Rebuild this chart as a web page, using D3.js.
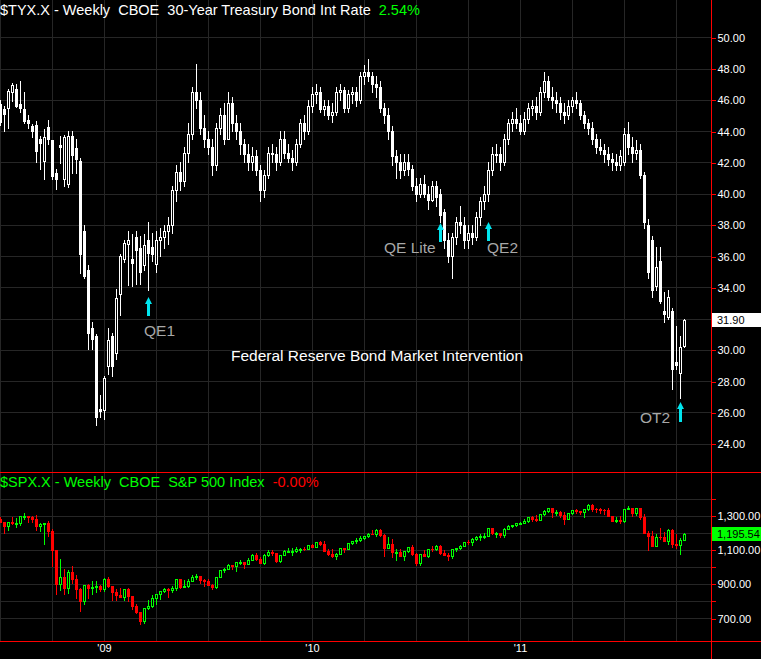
<!DOCTYPE html>
<html><head><meta charset="utf-8">
<script src="https://cdn.jsdelivr.net/npm/d3@7/dist/d3.min.js"></script>
<style>
html,body{margin:0;padding:0;background:#000;}
svg{display:block;}
text{font-family:"Liberation Sans",Arial,sans-serif;}
</style></head><body>
<svg id="c" width="761" height="659"></svg>
<script>
// ---------------- DATA ----------------
const firstWeek = "2008-06-30", lastWeek = "2011-10-10";
const yearLabels = ["'09", "'10", "'11"];
const tyxTicks = [24,26,28,30,32,34,36,38,40,42,44,46,48,50];
const spxTicks = [700,800,900,1000,1100,1200,1300,1400];
const spxLabelTicks = [700,900,1100,1300];
const tyxLast = 31.90, spxLast = 1195.54;

const tyxOpen = [45.7,45.4,45.46,46.5,46.7,45.74,45.42,44.7,44.35,44.4,
43.5,42.1,44.27,43.44,41.33,43.1,40.9,40.6,43.7,42.93,
42.1,37.6,35.13,31.42,30.85,26.19,26.12,28.93,30.9,29.77,
33.6,35.83,36.8,35.83,37.2,36.5,35.45,37.0,36.6,35.5,
37.0,37.2,37.6,38.0,40.2,41.4,40.8,42.6,43.8,46.5,
46.0,44.2,43.5,43.0,41.8,44.2,45.0,43.5,45.8,44.5,
44.0,43.2,42.5,42.0,42.4,41.5,40.2,41.2,42.6,42.5,
42.0,43.5,42.6,42.3,42.0,43.2,44.5,44.0,45.6,46.4,
46.5,45.4,45.6,45.0,45.2,46.5,46.6,45.5,46.4,46.5,
46.0,47.5,47.8,47.5,47.0,46.8,45.5,45.0,44.0,42.4,
42.0,41.5,42.0,41.6,40.5,40.0,40.6,40.0,39.6,40.5,
40.0,38.8,37.0,36.0,37.2,38.2,38.0,37.0,37.5,37.2,
38.5,39.5,40.0,41.5,42.5,42.5,42.0,43.5,44.5,44.8,
44.5,44.0,44.8,45.5,45.6,45.2,46.5,47.2,46.2,46.0,
45.8,45.2,45.0,45.6,46.0,45.8,45.0,44.5,44.2,43.5,
43.0,42.8,42.5,42.2,42.0,41.8,42.0,43.8,43.0,42.6,
42.8,41.2,38.0,37.05,34.05,35.7,32.47,32.1,32.5,29.2,
28.5,30.23];
const tyxHigh = [46.0,45.6,46.7,47.1,47.0,47.2,46.5,45.0,44.45,44.65,
43.7,44.1,44.7,43.44,41.6,43.7,43.75,44.0,44.0,43.5,
42.3,38.0,35.4,31.8,31.0,27.08,28.3,31.4,31.1,33.9,
36.1,37.05,37.6,37.4,37.6,37.3,37.4,38.2,37.5,37.6,
37.8,38.0,38.5,40.5,41.8,42.0,43.0,44.5,46.8,48.3,
46.5,45.0,44.0,43.5,44.5,45.5,45.8,46.5,46.2,45.0,
44.5,43.5,43.2,43.0,42.8,41.8,41.5,43.0,43.2,43.0,
44.0,44.0,43.2,42.8,43.5,44.8,45.0,46.0,46.8,47.0,
46.8,46.0,46.0,45.8,46.8,47.0,46.8,46.6,46.8,46.8,
47.8,48.2,48.6,47.8,47.5,47.2,45.8,45.5,44.3,42.8,
42.5,42.5,42.5,41.8,41.0,41.0,41.2,40.5,40.8,40.8,
40.3,39.0,37.5,37.5,38.5,39.2,38.5,38.0,38.0,38.8,
39.8,40.5,42.0,43.0,43.2,43.0,43.8,44.8,45.2,45.5,
45.0,45.2,45.8,46.0,46.2,46.8,47.8,47.5,46.8,46.5,
46.2,45.8,46.0,46.2,46.5,46.0,45.3,44.8,44.6,43.8,
43.5,43.2,43.0,42.6,42.5,42.8,44.2,44.6,43.6,43.4,
43.2,41.4,38.4,37.3,36.55,36.55,33.7,33.85,32.7,31.55,
30.87,32.0];
const tyxLow = [44.4,44.0,44.2,45.9,45.56,45.25,44.5,44.2,43.65,42.0,
41.6,40.9,43.2,40.9,40.3,41.95,40.5,40.4,41.33,41.3,
34.94,34.6,30.08,30.06,25.18,25.67,25.55,28.42,28.3,29.38,
32.2,35.6,34.17,34.1,34.2,34.2,35.1,33.8,35.7,35.0,
36.0,36.5,36.8,37.5,39.5,40.2,40.5,42.0,43.5,45.5,
43.8,43.0,42.5,41.2,41.5,43.8,43.2,43.5,44.0,43.5,
42.5,42.0,41.5,41.5,41.2,39.5,39.8,41.0,42.0,41.5,
41.8,42.3,42.0,41.5,41.8,43.0,43.5,43.8,45.2,45.8,
45.2,45.0,44.8,44.6,45.0,46.0,45.2,45.2,45.8,45.6,
45.8,47.0,47.2,46.5,46.2,45.2,44.5,43.5,41.8,41.0,
41.0,41.2,41.2,40.2,39.5,39.8,39.8,39.0,39.5,39.2,
38.2,36.5,35.6,34.6,36.8,37.5,36.5,36.5,36.8,37.0,
38.0,39.0,39.5,41.2,42.0,41.5,41.8,43.2,44.0,44.2,
43.8,43.8,44.5,45.0,44.8,45.0,46.2,46.0,45.5,45.2,
44.8,44.5,44.8,45.2,45.5,44.8,44.2,43.8,43.2,42.6,
42.5,42.0,41.8,41.5,41.5,41.5,41.8,42.5,42.0,42.2,
41.0,37.8,34.6,33.4,33.85,33.0,31.8,32.0,27.5,28.8,
26.93,30.2];
const tyxClose = [44.6,45.1,46.57,46.95,45.6,45.5,44.65,44.54,44.03,42.7,
43.23,43.6,43.5,41.14,40.9,43.0,43.6,43.7,42.48,42.22,
36.1,34.75,31.1,30.66,25.67,26.06,28.17,30.6,28.93,33.34,
36.03,36.86,37.0,35.58,36.4,35.0,36.7,36.2,36.1,37.05,
37.2,37.6,38.0,40.2,41.4,40.8,42.6,43.8,46.5,46.0,
44.2,43.5,43.0,41.8,44.2,45.0,43.5,45.8,44.5,44.0,
43.2,42.5,42.0,42.4,41.5,40.2,41.2,42.6,42.5,42.0,
43.5,42.6,42.3,42.0,43.2,44.5,44.0,45.6,46.4,46.5,
45.4,45.6,45.0,45.2,46.5,46.6,45.5,46.4,46.5,46.0,
47.5,47.8,47.5,47.0,46.8,45.5,45.0,44.0,42.4,42.0,
41.5,42.0,41.6,40.5,40.0,40.6,40.0,39.6,40.5,39.8,
38.65,37.0,36.0,37.2,38.2,38.0,37.0,37.5,37.2,38.5,
39.5,40.0,41.5,42.5,42.5,42.0,43.5,44.5,44.8,44.5,
44.0,44.8,45.5,45.6,45.2,46.5,47.2,46.2,46.0,45.8,
45.2,45.0,45.6,46.0,45.8,45.0,44.5,44.2,43.5,43.0,
42.8,42.5,42.2,42.0,41.8,42.4,43.8,43.0,42.6,42.8,
41.2,38.2,35.0,33.85,35.3,33.1,32.3,33.4,28.75,29.0,
30.2,31.9];

const spxOpen = [1278,1262,1239,1261,1257,1260,1296,1298,1292,1283,
1242,1251,1255,1213,1099,899,940,877,968,930,
873,800,896,876,879,887,872,931,890,850,
832,826,869,827,770,735,683,756,769,816,
843,857,870,866,877,929,883,887,919,940,
946,921,918,896,879,940,979,987,1010,1005,
1026,1029,1016,1042,1068,1044,1025,1071,1087,1080,
1036,1069,1091,1091,1091,1106,1106,1102,1127,1115,
1145,1136,1092,1074,1066,1075,1109,1105,1139,1150,
1160,1167,1179,1194,1192,1217,1187,1111,1136,1088,
1089,1065,1092,1117,1076,1022,1078,1065,1103,1102,
1121,1079,1071,1065,1104,1110,1125,1148,1146,1166,
1176,1183,1183,1225,1199,1199,1189,1224,1240,1243,
1256,1258,1271,1293,1283,1276,1310,1329,1343,1320,
1321,1304,1279,1313,1332,1328,1320,1337,1364,1340,
1338,1333,1331,1300,1271,1272,1268,1340,1344,1316,
1345,1292,1199,1179,1124,1177,1174,1154,1216,1136,
1131,1158];
const spxHigh = [1292,1263,1263,1290,1284,1297,1313,1300,1300,1303,
1255,1255,1266,1220,1099,1044,985,984,1007,954,
875,896,898,919,918,896,934,943,890,871,
877,870,875,827,780,735,758,804,832,843,
856,876,875,888,930,930,924,926,951,956,
946,930,931,898,943,980,996,1018,1013,1027,
1040,1031,1049,1074,1080,1060,1076,1096,1101,1081,
1072,1097,1113,1110,1114,1110,1119,1128,1133,1145,
1150,1150,1103,1104,1081,1112,1112,1140,1151,1170,
1181,1181,1197,1214,1220,1220,1190,1173,1163,1104,
1105,1094,1119,1131,1080,1078,1100,1103,1120,1130,
1129,1100,1080,1105,1111,1130,1148,1158,1168,1182,
1190,1196,1227,1227,1205,1200,1225,1244,1247,1259,
1262,1278,1294,1296,1302,1311,1331,1344,1344,1332,
1330,1319,1314,1333,1339,1330,1340,1366,1371,1348,
1346,1339,1346,1301,1293,1298,1341,1357,1345,1348,
1347,1308,1209,1208,1190,1230,1204,1220,1220,1195,
1170,1200];
const spxLow = [1262,1200,1215,1250,1234,1248,1282,1261,1262,1217,
1212,1133,1180,1007,839,866,840,845,904,818,
741,780,815,838,855,857,857,880,804,804,
821,805,800,754,731,667,672,753,767,780,
814,850,826,854,866,878,880,880,915,929,
903,889,895,869,875,939,970,985,990,978,
1017,992,1016,1039,1043,1020,1019,1066,1072,1029,
1030,1068,1086,1070,1086,1087,1097,1102,1115,1115,
1127,1091,1071,1059,1044,1074,1086,1105,1136,1138,
1150,1161,1175,1190,1180,1181,1066,1110,1056,1040,
1064,1042,1088,1071,1010,1010,1063,1057,1092,1101,
1077,1068,1039,1050,1091,1107,1121,1135,1131,1155,
1160,1171,1180,1193,1174,1176,1174,1221,1233,1242,
1251,1256,1262,1271,1270,1276,1306,1324,1294,1302,
1295,1249,1279,1308,1317,1308,1294,1336,1330,1319,
1318,1311,1297,1266,1262,1258,1263,1340,1296,1307,
1282,1199,1101,1124,1121,1166,1151,1136,1114,1112,
1075,1158];
const spxClose = [1262,1239,1261,1257,1260,1296,1298,1292,1283,1242,
1251,1255,1213,1099,899,940,877,968,930,873,
800,896,876,879,887,872,931,890,850,832,
826,869,827,770,735,683,756,769,816,843,
857,870,866,877,929,883,887,919,940,946,
921,918,896,879,940,979,987,1010,1005,1026,
1029,1016,1042,1068,1044,1025,1071,1087,1080,1036,
1069,1093,1091,1091,1106,1106,1102,1127,1115,1145,
1136,1092,1074,1066,1075,1109,1105,1139,1150,1160,
1167,1179,1194,1192,1217,1187,1111,1136,1088,1089,
1065,1092,1117,1076,1022,1078,1065,1103,1102,1121,
1079,1071,1065,1104,1110,1125,1148,1146,1166,1176,
1183,1183,1225,1199,1199,1189,1224,1240,1243,1256,
1258,1271,1293,1283,1276,1310,1329,1343,1320,1321,
1304,1279,1313,1332,1328,1320,1337,1364,1340,1338,
1333,1331,1300,1271,1272,1268,1340,1344,1316,1345,
1292,1199,1179,1124,1177,1174,1154,1216,1136,1131,
1155,1195.54];

// annotations: label and the week it points at
const notes = [
  {label:"QE1", k:37},
  {label:"QE Lite", k:110},
  {label:"QE2", k:122},
  {label:"OT2", k:170}
];

// ---------------- DRAW ----------------
const W = 761, H = 659;
const svg = d3.select("#c");
svg.append("rect").attr("width", W).attr("height", H).attr("fill", "#000");

const parse = d3.utcParse("%Y-%m-%d");
const weeks = d3.utcMonday.range(parse(firstWeek), d3.utcDay.offset(parse(lastWeek), 1));
const N = weeks.length;

const x = d3.scaleLinear().domain([0, N - 1]).range([0.3, 684.3]);
const yT = d3.scaleLinear().domain([24, 50]).range([443.5, 37.3]);
const yB = d3.scaleLinear().domain([700, 1300]).range([618, 515.7]);

const axisX = 711;
const topY0 = 0, topY1 = 472, botY0 = 472, botY1 = 641;
const gridColor = "#262626";

const defs = svg.append("defs");
defs.append("clipPath").attr("id", "clipT").append("rect").attr("x", 0).attr("y", topY0).attr("width", axisX).attr("height", topY1 - topY0);
defs.append("clipPath").attr("id", "clipB").append("rect").attr("x", 0).attr("y", botY0).attr("width", axisX).attr("height", botY1 - botY0);

// quarter gridlines: week that contains the first day of Jan/Apr/Jul/Oct
const gridK = [], yearK = [];
weeks.forEach((d, k) => {
  const end = d3.utcDay.offset(d, 7);
  [0, 3, 6, 9].forEach(m => {
    const first = new Date(Date.UTC(d.getUTCFullYear() + (d.getUTCMonth() > m ? 1 : 0), m, 1));
    if (first >= d && first < end) { gridK.push(k); if (m === 0) yearK.push(k); }
  });
});

const grid = svg.append("g").attr("shape-rendering", "crispEdges");
gridK.forEach(k => {
  const gx = Math.floor(x(k)) + 0.5;
  grid.append("line").attr("x1", gx).attr("x2", gx).attr("y1", topY0).attr("y2", botY1).attr("stroke", gridColor);
});
tyxTicks.forEach(v => {
  const gy = Math.round(yT(v)) + 0.5;
  grid.append("line").attr("x1", 0).attr("x2", axisX).attr("y1", gy).attr("y2", gy).attr("stroke", gridColor);
});
spxTicks.forEach(v => {
  const gy = Math.round(yB(v)) + 0.5;
  if (gy > botY0 && gy < botY1) grid.append("line").attr("x1", 0).attr("x2", axisX).attr("y1", gy).attr("y2", gy).attr("stroke", gridColor);
});

function candles(g, y, O, Hh, L, C, upCol, dnCol) {
  for (let k = 0; k < O.length; k++) {
    const cx = Math.floor(x(k));
    const up = C[k] >= O[k];
    const col = up ? upCol : dnCol;
    g.append("line").attr("x1", cx + 0.5).attr("x2", cx + 0.5)
      .attr("y1", Math.round(y(Hh[k]))).attr("y2", Math.round(y(L[k])) + 1).attr("stroke", col);
    const yt = Math.round(y(Math.max(O[k], C[k])));
    const yb = Math.round(y(Math.min(O[k], C[k])));
    if (up) {
      const h = Math.max(yb - yt, 1);
      g.append("rect").attr("x", cx - 0.5).attr("y", yt + 0.5).attr("width", 2).attr("height", h)
        .attr("fill", "#000").attr("stroke", col);
    } else {
      g.append("rect").attr("x", cx - 1).attr("y", yt).attr("width", 3).attr("height", Math.max(yb - yt + 1, 1))
        .attr("fill", col);
    }
  }
}

const gT = svg.append("g").attr("clip-path", "url(#clipT)").attr("shape-rendering", "crispEdges");
candles(gT, yT, tyxOpen, tyxHigh, tyxLow, tyxClose, "#ffffff", "#ffffff");
const gB = svg.append("g").attr("clip-path", "url(#clipB)").attr("shape-rendering", "crispEdges");
candles(gB, yB, spxOpen, spxHigh, spxLow, spxClose, "#00ff00", "#ff0000");

// frame lines
const frame = svg.append("g").attr("shape-rendering", "crispEdges");
frame.append("line").attr("x1", axisX + 0.5).attr("x2", axisX + 0.5).attr("y1", 0).attr("y2", H).attr("stroke", "#ff0000");
frame.append("line").attr("x1", 0).attr("x2", W).attr("y1", topY1 + 0.5).attr("y2", topY1 + 0.5).attr("stroke", "#ff0000");
frame.append("line").attr("x1", 0).attr("x2", W).attr("y1", botY1 + 0.5).attr("y2", botY1 + 0.5).attr("stroke", "#ff0000");

// right axes
const axT = d3.axisRight(yT).tickValues(tyxTicks).tickSize(4).tickPadding(2).tickFormat(d3.format(".2f"));
const gAT = svg.append("g").attr("transform", `translate(${axisX + 0.5},0.5)`).call(axT);
const axB = d3.axisRight(yB).tickValues(spxTicks).tickSize(4).tickPadding(2)
  .tickFormat(v => spxLabelTicks.includes(v) ? d3.format(",.2f")(v) : "");
const gAB = svg.append("g").attr("transform", `translate(${axisX + 0.5},0.5)`).call(axB);
[gAT, gAB].forEach(g => {
  g.select(".domain").remove();
  g.selectAll(".tick line").attr("stroke", "#ff0000").attr("shape-rendering", "crispEdges");
  g.selectAll(".tick text").attr("fill", "#ffffff").attr("font-size", 11).attr("font-family", "Liberation Sans, Arial, sans-serif");
});

// last value boxes
function lastBox(yv, txt, bg) {
  const cy = Math.round(yv);
  svg.append("rect").attr("x", axisX + 1).attr("y", cy - 7).attr("width", W - axisX - 1).attr("height", 14).attr("fill", bg);
  svg.append("text").attr("x", axisX + 6).attr("y", cy + 4).attr("font-size", 11).attr("fill", "#000").text(txt);
}
lastBox(yT(tyxLast), d3.format(".2f")(tyxLast), "#ffffff");
lastBox(yB(spxLast), d3.format(",.2f")(spxLast), "#00ff00");

// year labels
yearK.forEach((k, i) => {
  svg.append("text").attr("x", Math.floor(x(k)) + 0.5).attr("y", 652).attr("text-anchor", "middle")
    .attr("font-size", 11).attr("fill", "#ffffff").text(yearLabels[i]);
});

// titles
const t1 = svg.append("text").attr("x", 0).attr("y", 15).attr("font-size", 14.5).style("white-space", "pre");
t1.append("tspan").attr("fill", "#ffffff").text("$TYX.X - Weekly  CBOE  30-Year Treasury Bond Int Rate  ");
t1.append("tspan").attr("fill", "#00ff00").text("2.54%");
const t2 = svg.append("text").attr("x", 0).attr("y", 487).attr("font-size", 14.5).style("white-space", "pre");
t2.append("tspan").attr("fill", "#00ff00").text("$SPX.X - Weekly  CBOE  S&P 500 Index  ");
t2.append("tspan").attr("fill", "#ff0000").text("-0.00%");

// annotations
svg.append("text").attr("x", 231).attr("y", 361).attr("font-size", 15.5).attr("fill", "#ffffff")
  .text("Federal Reserve Bond Market Intervention");

const cyan = "#00e5ee";
function arrow(cx, ytop, len) {
  const p = d3.path();
  p.moveTo(cx, ytop); p.lineTo(cx + 3.5, ytop + 7); p.lineTo(cx + 1.5, ytop + 7);
  p.lineTo(cx + 1.5, ytop + len); p.lineTo(cx - 1.5, ytop + len); p.lineTo(cx - 1.5, ytop + 7);
  p.lineTo(cx - 3.5, ytop + 7); p.closePath();
  svg.append("path").attr("d", p.toString()).attr("fill", cyan);
}
const gray = "#a8a8a8";
arrow(Math.floor(x(notes[0].k)) + 0.5, 297, 19);
svg.append("text").attr("x", 144).attr("y", 336).attr("font-size", 15.5).attr("fill", gray).text(notes[0].label);
arrow(Math.floor(x(notes[1].k)) + 0.5, 223, 19);
svg.append("text").attr("x", 384).attr("y", 253).attr("font-size", 15.5).attr("fill", gray).text(notes[1].label);
arrow(Math.floor(x(notes[2].k)) + 0.5, 222, 19);
svg.append("text").attr("x", 487).attr("y", 253).attr("font-size", 15.5).attr("fill", gray).text(notes[2].label);
arrow(Math.floor(x(notes[3].k)) + 0.5, 402, 20);
svg.append("text").attr("x", 640).attr("y", 423).attr("font-size", 15.5).attr("fill", gray).text(notes[3].label);
</script>
</body></html>
